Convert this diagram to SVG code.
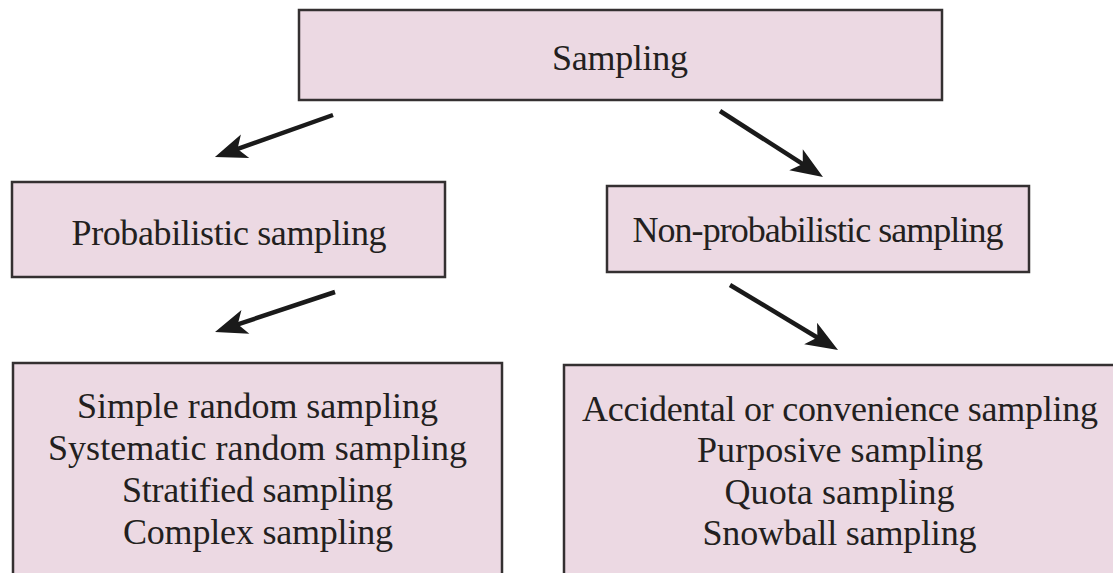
<svg xmlns="http://www.w3.org/2000/svg" width="1113" height="573" viewBox="0 0 1113 573">
<style>
.box{fill:#ecd9e3;stroke:#343031;stroke-width:2.5}
.t{font-family:"Liberation Serif","Times New Roman",serif;font-size:36px;fill:#231f20;text-anchor:middle}
.arr{stroke:#1a1a1a;stroke-width:4.5;fill:none;marker-end:url(#ah)}
</style>
<defs>
<marker id="ah" viewBox="-34 -14 36 28" markerWidth="36" markerHeight="28" refX="-16" refY="0" orient="auto" markerUnits="userSpaceOnUse">
<path d="M0,0 L-32,-12.5 L-24,0 L-32,12.5 Z" fill="#1a1a1a"/>
</marker>
</defs>
<rect width="1113" height="573" fill="#ffffff"/>
<g id="connectors">
<line class="arr" x1="333" y1="115" x2="230" y2="151.6"/>
<line class="arr" x1="720" y1="111" x2="809.5" y2="168.4"/>
<line class="arr" x1="335" y1="292" x2="230.2" y2="326.9"/>
<line class="arr" x1="730" y1="285" x2="824.3" y2="341.7"/>
</g>
<g id="sampling">
<rect class="box" x="299" y="10" width="643" height="90"/>
<text class="t" x="620" y="70" textLength="136">Sampling</text>
</g>
<g id="probabilistic">
<rect class="box" x="12" y="182" width="433" height="95"/>
<text class="t" x="229" y="245" textLength="315">Probabilistic sampling</text>
</g>
<g id="nonprobabilistic">
<rect class="box" x="607" y="186" width="422" height="86"/>
<text class="t" x="818" y="242" textLength="371">Non-probabilistic sampling</text>
</g>
<g id="prob-methods">
<rect class="box" x="13" y="363" width="489" height="230"/>
<text class="t" x="257.5" y="418" textLength="361">Simple random sampling</text>
<text class="t" x="257.5" y="460" textLength="419">Systematic random sampling</text>
<text class="t" x="257.5" y="502" textLength="271">Stratified sampling</text>
<text class="t" x="258" y="544" textLength="270">Complex sampling</text>
</g>
<g id="nonprob-methods">
<rect class="box" x="564" y="365" width="560" height="230"/>
<text class="t" x="840" y="421" textLength="516">Accidental or convenience sampling</text>
<text class="t" x="840" y="462" textLength="286">Purposive sampling</text>
<text class="t" x="839.5" y="504" textLength="230">Quota sampling</text>
<text class="t" x="839.5" y="545" textLength="274">Snowball sampling</text>
</g>
</svg>
